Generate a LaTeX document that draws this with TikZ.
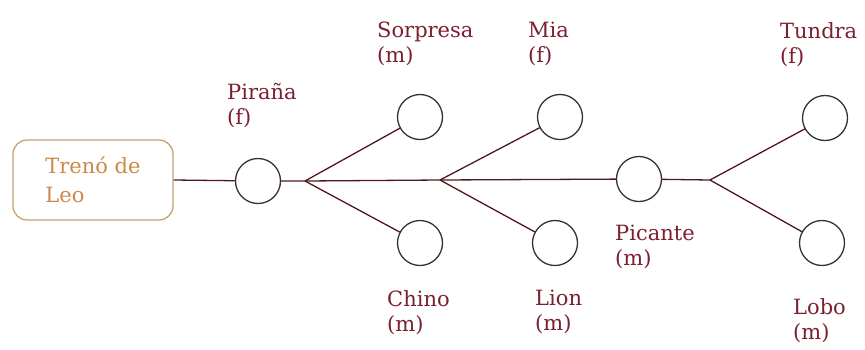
\documentclass[tikz,border=0pt]{standalone}
\usepackage{fontspec}
\setmainfont{DejaVu Serif}
\definecolor{maroon}{RGB}{122,32,48}
\definecolor{wire}{RGB}{80,24,30}
\definecolor{boxline}{RGB}{200,160,112}
\definecolor{boxtext}{RGB}{205,135,70}
\begin{document}
\begin{tikzpicture}[x=1pt,y=-1pt,
    petname/.style={text=maroon,align=left,anchor=north west,inner sep=0pt,
        font=\fontsize{21}{25}\selectfont},
    wire/.style={draw=wire,line width=1.3pt}]
    \tikzstyle{fish}=[circle,draw=black!80,line width=1.3pt,minimum size=45pt,inner sep=0pt]

    \useasboundingbox (0,0) rectangle (865,349);

    \node[draw=boxline,line width=1.3pt,rounded corners=14pt,minimum width=160pt,
        minimum height=80pt,text=boxtext,align=left,
        font=\fontsize{21}{29}\selectfont] (treno) at (93,180) {Trenó de\\Leo};

    \node[fish] (pirana) at (258,181) {};
    \node[fish] (sorpresa) at (420,117) {};
    \node[fish] (chino) at (420,243) {};
    \node[fish] (mia) at (560,117) {};
    \node[fish] (lion) at (555,243) {};
    \node[fish] (picante) at (639,179) {};
    \node[fish] (tundra) at (825,118) {};
    \node[fish] (lobo) at (822,243) {};

    \coordinate (b1) at (305,181);
    \coordinate (b2) at (440,180);
    \coordinate (b3) at (710,180);

    \draw[wire] (treno.east) -- (pirana) -- (b1) -- (b2) -- (picante) -- (b3);
    \draw[wire] (b1) -- (sorpresa);
    \draw[wire] (b1) -- (chino);
    \draw[wire] (b2) -- (mia);
    \draw[wire] (b2) -- (lion);
    \draw[wire] (b3) -- (tundra);
    \draw[wire] (b3) -- (lobo);

    \node[petname] (lpirana) at (227,83) {Piraña\\(f)};
    \node[petname] (lsorpresa) at (377,22) {Sorpresa\\(m)};
    \node[petname] (lmia) at (528,22) {Mia\\(f)};
    \node[petname] (ltundra) at (780,22) {Tundra\\(f)};
    \node[petname] (lchino) at (387,290) {Chino\\(m)};
    \node[petname] (llion) at (535,290) {Lion\\(m)};
    \node[petname] (lpicante) at (615,225) {Picante\\(m)};
    \node[petname] (llobo) at (793,298) {Lobo\\(m)};
\end{tikzpicture}
\end{document}
